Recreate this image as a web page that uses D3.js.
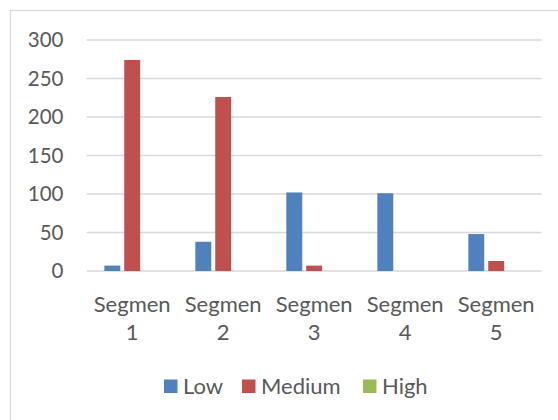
<!DOCTYPE html>
<html>
<head>
<meta charset="utf-8">
<script src="https://cdn.jsdelivr.net/npm/d3@7"></script>
<style>
  html, body { margin: 0; padding: 0; background: #fff; }
  svg { display: block; }
  text { font-family: Lato, "Open Sans", sans-serif; fill: #595959; }
</style>
</head>
<body>
<svg id="chart" width="558" height="420"></svg>
<script>
// Segment counts by level
const categories = ["Segmen 1", "Segmen 2", "Segmen 3", "Segmen 4", "Segmen 5"];
const series = ["Low", "Medium", "High"];
const lowValues = [7, 38, 102, 101, 48];
const mediumValues = [274, 226, 7, 0, 13];
const highValues = [0, 0, 0, 0, 0];
const yTicks = [0, 50, 100, 150, 200, 250, 300];
const colors = ["#4F81BD", "#C0504D", "#9BBB59"];

const valuesBySeries = [lowValues, mediumValues, highValues];
const rows = categories.map((c, i) => ({
  category: c,
  values: series.map((s, j) => ({ series: s, value: valuesBySeries[j][i] }))
}));

const svg = d3.select("#chart");
const plot = { left: 86.7, right: 541.7, top: 40, bottom: 271 };

// outer chart frame
svg.append("rect")
  .attr("x", 10.5).attr("y", 10.5)
  .attr("width", 600).attr("height", 500)
  .attr("fill", "none").attr("stroke", "#d9d9d9").attr("stroke-width", 1.3);

const x = d3.scaleBand().domain(categories).range([plot.left, plot.right]).padding(0);
const xSub = d3.scaleBand().domain(series).range([0, x.bandwidth()])
  .paddingInner(0.2).paddingOuter(0.886);
const y = d3.scaleLinear().domain([0, 300]).range([plot.bottom, plot.top]);
const color = d3.scaleOrdinal().domain(series).range(colors);

// gridlines
svg.append("g")
  .selectAll("line").data(yTicks).join("line")
  .attr("x1", plot.left).attr("x2", plot.right)
  .attr("y1", d => y(d)).attr("y2", d => y(d))
  .attr("stroke", "#d9d9d9").attr("stroke-width", 1.3);

// y axis labels
const yAxis = d3.axisLeft(y).tickValues(yTicks).tickSize(0).tickPadding(0);
const yg = svg.append("g").attr("transform", `translate(63.5,0)`).call(yAxis);
yg.select(".domain").remove();
yg.selectAll("text").attr("font-size", 20.5).attr("fill", "#595959")
  .style("font-family", "Lato, sans-serif");

// bars
svg.append("g")
  .selectAll("g").data(rows).join("g")
  .attr("transform", d => `translate(${x(d.category)},0)`)
  .selectAll("rect").data(d => d.values).join("rect")
  .attr("x", d => xSub(d.series))
  .attr("width", xSub.bandwidth())
  .attr("y", d => y(d.value))
  .attr("height", d => y(0) - y(d.value))
  .attr("fill", d => color(d.series));

// category labels, wrapped onto two lines
const xg = svg.append("g");
categories.forEach(c => {
  const parts = c.split(" ");
  const cx = x(c) + x.bandwidth() / 2;
  const t = xg.append("text").attr("text-anchor", "middle").attr("font-size", 22);
  t.append("tspan").attr("x", cx).attr("y", 312).text(parts[0]);
  t.append("tspan").attr("x", cx).attr("y", 340).text(parts[1]);
});

// legend
const legendX = [164, 242, 363];
const legend = svg.append("g");
series.forEach((s, i) => {
  legend.append("rect")
    .attr("x", legendX[i]).attr("y", 379.5)
    .attr("width", 13.5).attr("height", 13.5)
    .attr("fill", color(s));
  legend.append("text")
    .attr("x", legendX[i] + 19)
    .attr("y", 393.5)
    .attr("font-size", 22)
    .text(s);
});
</script>
</body>
</html>
